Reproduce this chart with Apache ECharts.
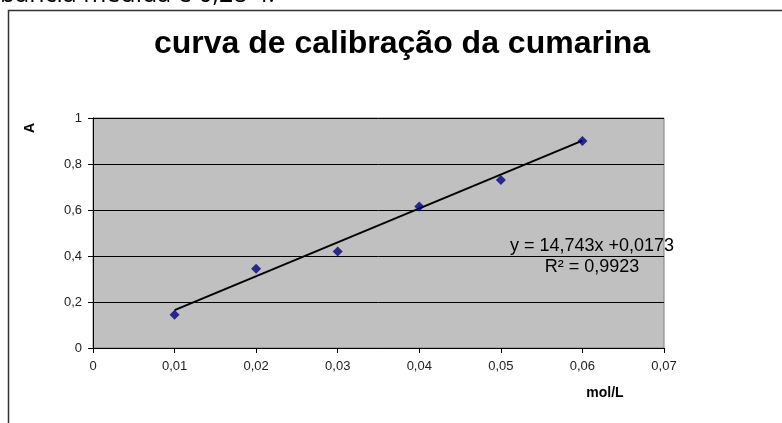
<!DOCTYPE html>
<html>
<head>
<meta charset="UTF-8">
<title>curva de calibração da cumarina</title>
<script src="https://cdn.jsdelivr.net/npm/echarts@6/dist/echarts.min.js"></script>
<style>
  html, body { margin: 0; padding: 0; background: #fff; }
  #chart { width: 782px; height: 423px; }
</style>
</head>
<body>
<div id="chart"></div>
<script>
// concentração (mol/L) e absorvância
var conc = [0.01, 0.02, 0.03, 0.04, 0.05, 0.06];
var absorb = [0.145, 0.345, 0.42, 0.615, 0.73, 0.9];
// linha de tendência (Excel)
var slope = 14.743;
var intercept = 0.0173;
var eqText = ['y = 14,743x +0,0173', 'R² = 0,9923'];

var pts = conc.map(function (c, i) { return [c, absorb[i]]; });
var xMin = Math.min.apply(null, conc), xMax = Math.max.apply(null, conc);
var trend = [[xMin, slope * xMin + intercept], [xMax, slope * xMax + intercept]];

function comma(v, d) {
  if (v === 0) return '0';
  if (v === 1) return '1';
  return v.toFixed(d).replace('.', ',');
}

var chart = echarts.init(document.getElementById('chart'));
chart.setOption({
  animation: false,
  textStyle: { fontFamily: 'Liberation Sans, Arial, sans-serif' },
  title: {
    text: 'curva de calibração da cumarina',
    left: 397, top: 23, textAlign: 'center',
    textStyle: { fontSize: 32, fontWeight: 'bold', color: '#000' }
  },
  grid: { left: 93, top: 118, width: 571, height: 230, show: true,
          backgroundColor: '#c0c0c0', borderColor: '#808080', borderWidth: 1 },
  xAxis: {
    type: 'value', min: 0, max: 0.07, interval: 0.01,
    axisLine: { lineStyle: { color: '#000', width: 1 } },
    axisTick: { show: true, length: 5, inside: false, lineStyle: { color: '#000' } },
    axisLabel: { color: '#222', fontSize: 13, margin: 12,
                 formatter: function (v) { return comma(v, 2); } },
    splitLine: { show: false }
  },
  yAxis: {
    type: 'value', min: 0, max: 1, interval: 0.2,
    axisLine: { show: true, lineStyle: { color: '#000', width: 1 } },
    axisTick: { show: true, length: 5, inside: false, lineStyle: { color: '#000' } },
    axisLabel: { color: '#222', fontSize: 13, margin: 11,
                 formatter: function (v) { return comma(v, 1); } },
    splitLine: { show: true, lineStyle: { color: '#000', width: 1 } }
  },
  series: [
    {
      type: 'line', data: trend, symbol: 'none', silent: true,
      lineStyle: { color: '#000', width: 2 }, z: 2
    },
    {
      type: 'scatter', data: pts, symbol: 'diamond', symbolSize: 10,
      itemStyle: { color: '#000080' }, z: 3
    }
  ],
  graphic: [
    { type: 'rect', shape: { x: 8.5, y: 10.5, width: 900, height: 600 },
      style: { fill: 'none', stroke: '#333', lineWidth: 1.5 }, silent: true },
    { type: 'text', x: 0, y: 7,
      style: { text: 'bância medida é 0,28 4.', font: '25px "Open Sans", sans-serif',
               fill: '#000', verticalAlign: 'bottom' } },
    { type: 'text', x: 592, y: 236,
      style: { text: eqText.join('\n'), font: '18px "Liberation Sans", Arial, sans-serif',
               fill: '#000', align: 'center', lineHeight: 21 } },
    { type: 'text', x: 30, y: 128, rotation: Math.PI / 2,
      style: { text: 'A', font: 'bold 14px "Liberation Sans", Arial, sans-serif',
               fill: '#000', align: 'center', verticalAlign: 'middle' } },
    { type: 'text', x: 605, y: 393,
      style: { text: 'mol/L', font: 'bold 14px "Liberation Sans", Arial, sans-serif',
               fill: '#000', align: 'center', verticalAlign: 'middle' } }
  ]
});
</script>
</body>
</html>
